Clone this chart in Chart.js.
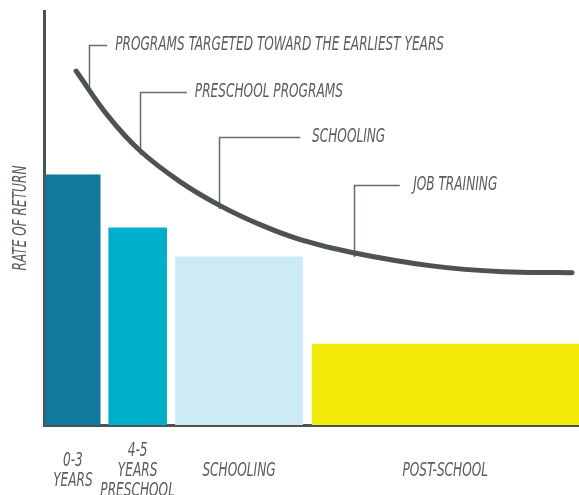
<!DOCTYPE html>
<html>
<head>
<meta charset="utf-8">
<script src="https://cdn.jsdelivr.net/npm/chart.js@4/dist/chart.umd.min.js"></script>
<style>
  html, body { margin: 0; padding: 0; background: #fff; }
  canvas { display: block; }
</style>
</head>
<body>
<canvas id="grafica" width="579" height="495"></canvas>
<script>
// etapas (eje x) y barras de ancho variable
const etapas = [["0-3", "YEARS"], ["4-5", "YEARS", "PRESCHOOL"], ["SCHOOLING"], ["POST-SCHOOL"]];
const inicioBarra = [0.2, 12, 24.5, 50];
const finBarra = [10.6, 23, 48.4, 100];
const retornoBarra = [60.5, 47.7, 40.7, 19.6];
const coloresBarra = ["#0f799e", "#00afca", "#cdebf7", "#f3eb0a"];

// curva de tasa de retorno
const curvaX = [6.0, 12.0, 17.9, 25.4, 32.9, 40.4, 47.9, 57.8, 72.1, 85.8, 98.7];
const curvaY = [85.5, 74.6, 66.3, 58.8, 53.0, 48.4, 44.8, 41.6, 38.5, 37.0, 36.8];

// notas con linea guia
const notas = ["PROGRAMS TARGETED TOWARD THE EARLIEST YEARS", "PRESCHOOL PROGRAMS", "SCHOOLING", "JOB TRAINING"];
const notaX = [8.4, 17.9, 32.7, 57.9];
const notaY = [91.8, 80.4, 69.5, 57.9];
const notaFinLinea = [11.8, 26.7, 47.9, 66.5];
const notaTextoX = [13.3, 28.2, 50.1, 69.0];

const tituloY = "RATE OF RETURN";

const gris = "#4d5252";
const grisTexto = "#575c5c";
const fuente = 'italic 19px "Liberation Sans Narrow", "DejaVu Sans Condensed", sans-serif';

function escribir(ctx, str, x, y, rot) {
  ctx.save();
  ctx.translate(x, y);
  if (rot) ctx.rotate(rot);
  ctx.scale(0.71, 1);
  ctx.fillText(str, 0, 0);
  ctx.restore();
}

function curvaEn(x) {
  for (let i = 0; i < curvaX.length - 1; i++) {
    if (x >= curvaX[i] && x <= curvaX[i + 1]) {
      const t = (x - curvaX[i]) / (curvaX[i + 1] - curvaX[i]);
      return curvaY[i] + t * (curvaY[i + 1] - curvaY[i]);
    }
  }
  return curvaY[curvaY.length - 1];
}

const datasets = [];
retornoBarra.forEach((v, i) => {
  datasets.push({
    data: [{ x: inicioBarra[i], y: v }, { x: finBarra[i], y: v }],
    backgroundColor: coloresBarra[i],
    borderWidth: 0,
    pointRadius: 0,
    fill: 'origin',
    order: 2
  });
});
datasets.push({
  data: curvaX.map((x, i) => ({ x: x, y: curvaY[i] })),
  borderColor: gris,
  borderWidth: 5,
  borderCapStyle: 'round',
  tension: 0.4,
  pointRadius: 0,
  fill: false,
  order: 1
});

const notasPlugin = {
  id: 'notas',
  beforeDatasetsDraw(chart) {
    const ctx = chart.ctx;
    const sx = chart.scales.x, sy = chart.scales.y;
    ctx.save();
    ctx.strokeStyle = "#666b6b";
    ctx.lineWidth = 1.5;
    notas.forEach((n, i) => {
      const x = Math.round(sx.getPixelForValue(notaX[i])) + 0.5;
      const y = Math.round(sy.getPixelForValue(notaY[i])) + 0.5;
      const yb = sy.getPixelForValue(curvaEn(notaX[i]) - 1);
      ctx.beginPath();
      ctx.moveTo(x, yb);
      ctx.lineTo(x, y);
      ctx.lineTo(sx.getPixelForValue(notaFinLinea[i]), y);
      ctx.stroke();
    });
    ctx.restore();
  },
  afterDraw(chart) {
    const ctx = chart.ctx;
    const sx = chart.scales.x, sy = chart.scales.y;
    const area = chart.chartArea;
    ctx.save();
    ctx.font = fuente;
    ctx.fillStyle = grisTexto;
    ctx.textBaseline = 'middle';
    ctx.textAlign = 'left';
    notas.forEach((n, i) => {
      escribir(ctx, n, sx.getPixelForValue(notaTextoX[i]), sy.getPixelForValue(notaY[i]));
    });
    ctx.textAlign = 'center';
    etapas.forEach((lineas, i) => {
      const cx = sx.getPixelForValue((inicioBarra[i] + finBarra[i]) / 2);
      const cy = area.bottom + 46;
      lineas.forEach((l, j) => {
        escribir(ctx, l, cx, cy - (lineas.length - 1) * 10 + j * 20);
      });
    });
    escribir(ctx, tituloY, 21, (area.top + area.bottom) / 2, -Math.PI / 2);
    ctx.restore();
  }
};

new Chart(document.getElementById("grafica"), {
  type: 'line',
  data: { datasets: datasets },
  options: {
    responsive: false,
    animation: false,
    layout: { padding: { left: 44, top: 11, right: 0, bottom: 70 } },
    plugins: { legend: { display: false }, tooltip: { enabled: false } },
    scales: {
      x: {
        type: 'linear', min: 0, max: 100,
        ticks: { display: false },
        grid: { display: true, drawOnChartArea: false, drawTicks: false },
        border: { display: true, color: gris, width: 3 }
      },
      y: {
        min: 0, max: 100,
        ticks: { display: false },
        grid: { display: true, drawOnChartArea: false, drawTicks: false },
        border: { display: true, color: gris, width: 3 }
      }
    }
  },
  plugins: [notasPlugin]
});
</script>
</body>
</html>
